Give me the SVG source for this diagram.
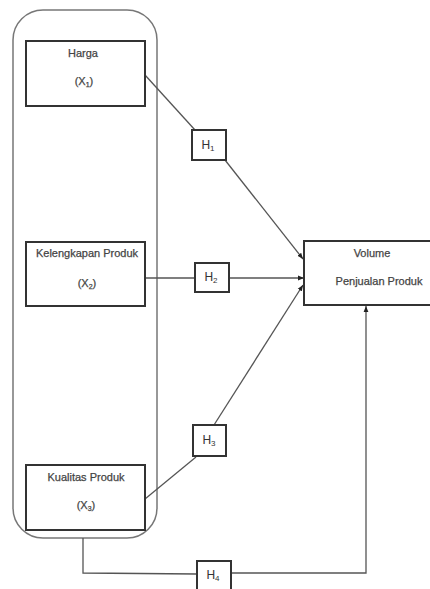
<svg xmlns="http://www.w3.org/2000/svg" width="430" height="589" viewBox="0 0 430 589">
<defs>
<style>
.box{fill:#fff;stroke:#333;stroke-width:2}
.hb{fill:#fff;stroke:#333;stroke-width:2}
.t{font-family:"Liberation Sans",Arial,sans-serif;font-size:11px;fill:#444;stroke:#444;stroke-width:0.25;text-anchor:middle}
.h{font-family:"Liberation Sans",Arial,sans-serif;font-size:12px;fill:#333;text-anchor:middle}
.ln{fill:none;stroke:#555;stroke-width:1.3}
</style>
<marker id="ar" viewBox="0 0 10 10" refX="10" refY="5" markerWidth="6" markerHeight="6" orient="auto" markerUnits="userSpaceOnUse">
<path d="M0,1 L10,5 L0,9 z" fill="#222"/>
</marker>
</defs>
<rect width="430" height="589" fill="#fff"/>
<g id="group">
<rect x="13" y="10" width="144" height="528" rx="30" ry="30" fill="none" stroke="#777" stroke-width="1.5"/>
</g>
<g id="connectors">
<line class="ln" x1="145" y1="75" x2="195" y2="130"/>
<line class="ln" x1="225" y1="160" x2="303" y2="259" marker-end="url(#ar)"/>
<line class="ln" x1="145" y1="278" x2="195" y2="278"/>
<line class="ln" x1="229" y1="278" x2="304" y2="278" marker-end="url(#ar)"/>
<line class="ln" x1="145" y1="499" x2="196" y2="457"/>
<line class="ln" x1="214" y1="425" x2="303" y2="285" marker-end="url(#ar)"/>
<polyline class="ln" points="83,538 83,573 197,574"/>
<polyline class="ln" points="231,573 366,573 366,306" marker-end="url(#ar)"/>
</g>
<g id="harga">
<rect class="box" x="26" y="41" width="119" height="65"/>
<text class="t" x="83" y="57">Harga</text>
<text class="t" x="84" y="85">(X<tspan font-size="7" dy="2">1</tspan><tspan dy="-2">)</tspan></text>
</g>
<g id="kelengkapan">
<rect class="box" x="26" y="242" width="119" height="64"/>
<text class="t" x="87" y="257">Kelengkapan Produk</text>
<text class="t" x="87" y="287">(X<tspan font-size="7" dy="2">2</tspan><tspan dy="-2">)</tspan></text>
</g>
<g id="kualitas">
<rect class="box" x="26" y="465" width="119" height="65"/>
<text class="t" x="86" y="481">Kualitas Produk</text>
<text class="t" x="86" y="509">(X<tspan font-size="7" dy="2">3</tspan><tspan dy="-2">)</tspan></text>
</g>
<g id="volume">
<rect class="box" x="304" y="241" width="130" height="64"/>
<text class="t" x="372" y="257">Volume</text>
<text class="t" x="379" y="285">Penjualan  Produk</text>
</g>
<g id="h1">
<rect class="hb" x="192" y="130" width="34" height="30"/>
<text class="h" x="208" y="149">H<tspan font-size="8" dy="2">1</tspan></text>
</g>
<g id="h2">
<rect class="hb" x="195" y="263" width="34" height="29"/>
<text class="h" x="211" y="281">H<tspan font-size="8" dy="2">2</tspan></text>
</g>
<g id="h3">
<rect class="hb" x="193" y="425" width="33" height="31"/>
<text class="h" x="209" y="444">H<tspan font-size="8" dy="2">3</tspan></text>
</g>
<g id="h4">
<rect class="hb" x="197" y="561" width="34" height="30"/>
<text class="h" x="213" y="579">H<tspan font-size="8" dy="2">4</tspan></text>
</g>
</svg>
